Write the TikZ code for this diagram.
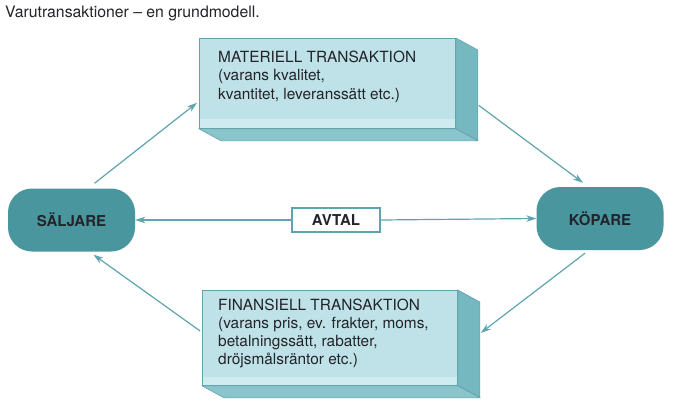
\documentclass[tikz,border=0pt]{standalone}
\usepackage{fontspec}
\setmainfont{TeX Gyre Heros}
\usetikzlibrary{arrows.meta,calc}
\definecolor{tealnode}{RGB}{74,150,159}
\definecolor{frontc}{RGB}{190,226,232}
\definecolor{bandc}{RGB}{208,235,239}
\definecolor{sidec}{RGB}{118,184,192}
\definecolor{bottomc}{RGB}{138,197,204}
\definecolor{edgec}{RGB}{100,163,172}
\definecolor{arrc}{RGB}{95,165,175}
\definecolor{txtc}{RGB}{35,35,42}
\tikzset{
  party/.style={rounded corners=24pt, fill=tealnode, minimum width=127pt, minimum height=63pt,
    font=\fontsize{15}{18}\selectfont\bfseries, text=txtc, inner sep=0pt},
  frontface/.style={fill=frontc, draw=edgec, line width=0.8pt, inner sep=0pt, anchor=north west},
  sideface/.style={fill=sidec, draw=edgec, line width=0.6pt},
  botface/.style={fill=bottomc, draw=edgec, line width=0.6pt},
  band/.style={fill=bandc},
  boxtext/.style={anchor=north west, align=left, inner sep=0pt, text=txtc,
    font=\fontsize{15.4}{18.2}\selectfont},
  avtalbox/.style={draw=arrc, line width=1.6pt, fill=white, minimum width=88pt, minimum height=24pt,
    inner sep=0pt, font=\fontsize{15}{18}\selectfont\bfseries, text=txtc},
  arr/.style={draw=arrc, line width=1.2pt, -{Stealth[length=10pt,width=6.5pt,inset=3pt]}},
  titletext/.style={anchor=north west, inner sep=0pt, text=txtc, font=\fontsize{15.8}{18}\selectfont}
}
\begin{document}
\begin{tikzpicture}[x=1pt,y=-1pt]
\useasboundingbox (0,0) rectangle (676,412);
\fill[white] (0,0) rectangle (676,412);
% title
\node[titletext] (title) at (5,6) {Varutransaktioner -- en grundmodell.};
% top box
\node[frontface, minimum width=256pt, minimum height=90pt] (mat) at (199,38) {};
\fill[band] ($(mat.south west)+(1,-10)$) rectangle ($(mat.south east)+(-1,-1)$);
\filldraw[sideface] (mat.north east) -- ++(22,12) -- ++(0,90) -- (mat.south east) -- cycle;
\filldraw[botface] (mat.south west) -- (mat.south east) -- ++(22,12) -- ($(mat.south west)+(22,12)$) -- cycle;
\node[boxtext] (mattext) at (218,51) {MATERIELL TRANSAKTION\\(varans kvalitet,\\kvantitet, leveranssätt etc.)};
% bottom box
\node[frontface, minimum width=255pt, minimum height=95pt] (fin) at (202,290) {};
\fill[band] ($(fin.south west)+(1,-9)$) rectangle ($(fin.south east)+(-1,-1)$);
\filldraw[sideface] (fin.north east) -- ++(22,12) -- ++(0,95) -- (fin.south east) -- cycle;
\filldraw[botface] (fin.south west) -- (fin.south east) -- ++(22,12) -- ($(fin.south west)+(22,12)$) -- cycle;
\node[boxtext] (fintext) at (218,298.5) {FINANSIELL TRANSAKTION\\(varans pris, ev. frakter, moms,\\betalningssätt, rabatter,\\dröjsmålsräntor etc.)};
% parties
\node[party] (salj) at (71.5,220) {SÄLJARE};
\node[party] (kop) at (600,218.5) {KÖPARE};
\node[avtalbox] (avtal) at (336,220) {AVTAL};
% connectors
\draw[arr] (avtal.west) -- (salj.east);
\draw[arr] (avtal.east) -- (kop.west);
\draw[arr] ($(salj.north)+(23,-5)$) -- ($(mat.south west)+(-2,-26)$);
\draw[arr] ($(mat.east)+(23,22)$) -- ($(kop.north)+(-17,-4)$);
\draw[arr] ($(kop.south)+(-15,3)$) -- ($(fin.east)+(23,-5)$);
\draw[arr] ($(fin.west)+(-2,-7)$) -- ($(salj.south)+(22,3)$);
\end{tikzpicture}
\end{document}
